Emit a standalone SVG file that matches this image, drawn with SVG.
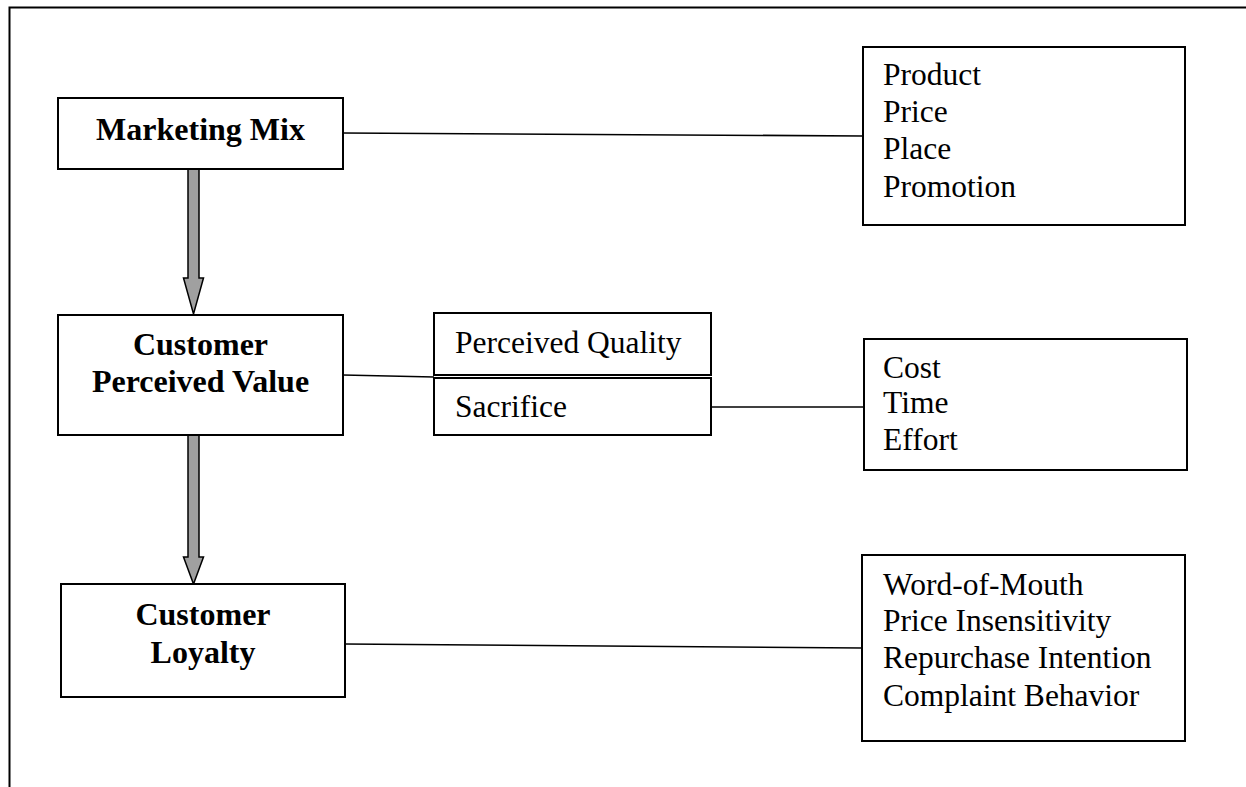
<svg xmlns="http://www.w3.org/2000/svg" width="1246" height="787" viewBox="0 0 1246 787">
<style>
.box{fill:#fff;stroke:#000;stroke-width:2}
.b{font-family:"Liberation Serif","Times New Roman",serif;font-weight:bold;font-size:32px;fill:#000;text-anchor:middle}
.r{font-family:"Liberation Serif","Times New Roman",serif;font-size:31.5px;fill:#000}
.ln{stroke:#000;stroke-width:1.6;fill:none}
.arr{fill:#a0a0a0;stroke:#000;stroke-width:1.5;stroke-linejoin:miter}
</style>
<rect width="1246" height="787" fill="#fff"/>
<path d="M9.5,787 V7.5 H1246" fill="none" stroke="#000" stroke-width="2"/>
<g id="connectors">
<line class="ln" x1="343" y1="133" x2="863" y2="136"/>
<line class="ln" x1="343" y1="375" x2="434" y2="377"/>
<line class="ln" x1="711" y1="407" x2="864" y2="407"/>
<line class="ln" x1="345" y1="644" x2="862" y2="648"/>
<polygon class="arr" points="188,169 199,169 199,278 203.5,278 193.5,314 183.5,278 188,278"/>
<polygon class="arr" points="188,435 199,435 199,557 203.5,557 193.5,584 183.5,557 188,557"/>
</g>
<g id="marketing-mix">
<rect class="box" x="58" y="98" width="285" height="71"/>
<text class="b" x="200.5" y="140">Marketing Mix</text>
</g>
<g id="customer-perceived-value">
<rect class="box" x="58" y="315" width="285" height="120"/>
<text class="b" x="200.5" y="355">Customer</text>
<text class="b" x="200.5" y="392">Perceived Value</text>
</g>
<g id="customer-loyalty">
<rect class="box" x="61" y="584" width="284" height="113"/>
<text class="b" x="203" y="625">Customer</text>
<text class="b" x="203" y="663">Loyalty</text>
</g>
<g id="marketing-mix-items">
<rect class="box" x="863" y="47" width="322" height="178"/>
<text class="r" x="883" y="85">Product</text>
<text class="r" x="883" y="122">Price</text>
<text class="r" x="883" y="159">Place</text>
<text class="r" x="883" y="197">Promotion</text>
</g>
<g id="perceived-quality">
<rect class="box" x="434" y="313" width="277" height="62"/>
<text class="r" x="455" y="353">Perceived Quality</text>
</g>
<g id="sacrifice">
<rect class="box" x="434" y="378" width="277" height="57"/>
<text class="r" x="455" y="417">Sacrifice</text>
</g>
<g id="sacrifice-items">
<rect class="box" x="864" y="339" width="323" height="131"/>
<text class="r" x="883" y="378">Cost</text>
<text class="r" x="883" y="413">Time</text>
<text class="r" x="883" y="450">Effort</text>
</g>
<g id="loyalty-items">
<rect class="box" x="862" y="555" width="323" height="186"/>
<text class="r" x="883" y="595">Word-of-Mouth</text>
<text class="r" x="883" y="631">Price Insensitivity</text>
<text class="r" x="883" y="668">Repurchase Intention</text>
<text class="r" x="883" y="706">Complaint Behavior</text>
</g>
</svg>
